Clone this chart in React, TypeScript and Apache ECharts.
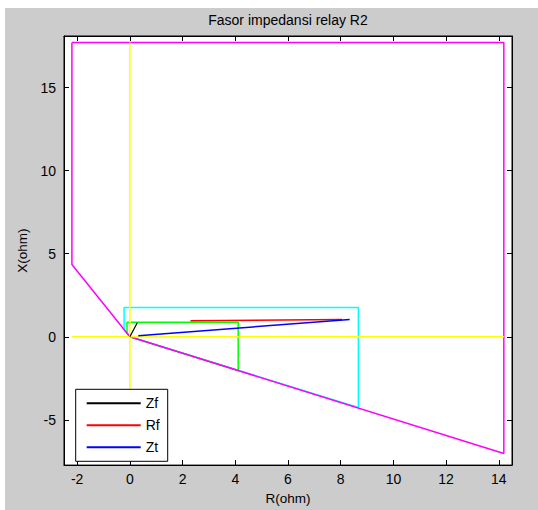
import React, { useEffect, useRef } from "react";
import * as echarts from "echarts";

// ---- data ----
const xTickValues = [-2, 0, 2, 4, 6, 8, 10, 12, 14];
const yTickValues = [-5, 0, 5, 10, 15];
const xRange = [-2.5, 14.5];
const yRange = [-7.72, 18.1];

// zone 3 (magenta)
const zone3Outline = [
  [-2.2, 17.71],
  [-2.2, 4.35],
  [0, 0],
  [14.19, -7.02],
  [14.19, 17.71],
  [-2.2, 17.71],
];
// zone 2 (cyan)
const zone2Outline = [
  [0, 0],
  [-0.22, 0.44],
  [-0.22, 1.76],
  [8.67, 1.76],
  [8.67, -4.25],
  [0, 0],
];
// zone 1 (green)
const zone1Outline = [
  [0, 0],
  [-0.11, 0.22],
  [-0.11, 0.87],
  [4.11, 0.87],
  [4.11, -2.03],
  [0, 0],
];
// yellow reference axes
const rAxisRef = [
  [-2.2, 0],
  [14.19, 0],
];
const xAxisRef = [
  [0, -7.02],
  [0, 17.71],
];
// phasors
const zfLine = [
  [0, 0],
  [0.28, 0.85],
];
const rfLine = [
  [2.3, 0.96],
  [8.05, 1.04],
];
const ztLine = [
  [0.32, 0.07],
  [8.34, 1.04],
];

const FONT = "'Liberation Sans', Arial, sans-serif";

export default function App() {
  const ref = useRef<HTMLDivElement>(null);

  useEffect(() => {
    if (!ref.current) return;
    const chart = echarts.init(ref.current, undefined, { renderer: "svg" });

    const line = (name: string | undefined, data: number[][], color: string, width = 1.5) => ({
      type: "line",
      name,
      data,
      showSymbol: false,
      symbol: "none",
      silent: true,
      lineStyle: { color, width },
      itemStyle: { color },
    });

    const axisLine = { show: true, onZero: false, lineStyle: { color: "#000", width: 1 } };
    const tick = (vals: number[]) => ({
      show: true,
      inside: true,
      length: 5,
      customValues: vals,
      lineStyle: { color: "#000" },
    });

    chart.setOption({
      animation: false,
      backgroundColor: "#cccccc",
      grid: {
        left: 59,
        top: 28,
        right: 26,
        bottom: 40,
        show: true,
        backgroundColor: "#ffffff",
        borderColor: "#000",
        borderWidth: 1,
      },
      graphic: [
        {
          type: "text",
          x: 283,
          y: 12,
          style: {
            text: "Fasor impedansi relay R2",
            font: `14px ${FONT}`,
            fill: "#000",
            align: "center",
            verticalAlign: "middle",
          },
        },
      ],
      xAxis: [
        {
          type: "value",
          position: "bottom",
          min: xRange[0],
          max: xRange[1],
          splitLine: { show: false },
          axisLine,
          name: "R(ohm)",
          nameLocation: "middle",
          nameGap: 24,
          nameTextStyle: { color: "#000", fontSize: 13.5, fontFamily: FONT },
          axisTick: tick(xTickValues),
          axisLabel: { show: true, customValues: xTickValues, margin: 7, color: "#000", fontSize: 14, fontFamily: FONT },
        },
        {
          type: "value",
          position: "top",
          min: xRange[0],
          max: xRange[1],
          splitLine: { show: false },
          axisLine,
          axisTick: tick(xTickValues),
          axisLabel: { show: false },
        },
      ],
      yAxis: [
        {
          type: "value",
          position: "left",
          min: yRange[0],
          max: yRange[1],
          splitLine: { show: false },
          axisLine,
          name: "X(ohm)",
          nameLocation: "middle",
          nameGap: 32,
          nameTextStyle: { color: "#000", fontSize: 13.5, fontFamily: FONT },
          axisTick: tick(yTickValues),
          axisLabel: { show: true, customValues: yTickValues, margin: 8, color: "#000", fontSize: 14, fontFamily: FONT },
        },
        {
          type: "value",
          position: "right",
          min: yRange[0],
          max: yRange[1],
          splitLine: { show: false },
          axisLine,
          axisTick: tick(yTickValues),
          axisLabel: { show: false },
        },
      ],
      legend: {
        data: ["Zf", "Rf", "Zt"],
        orient: "vertical",
        left: 70.7,
        top: 381.3,
        backgroundColor: "#ffffff",
        borderColor: "#000",
        borderWidth: 1,
        borderRadius: 0,
        padding: [7, 8, 7, 10],
        itemWidth: 54,
        itemHeight: 14,
        itemGap: 8,
        selectedMode: false,
        itemStyle: { opacity: 0, borderWidth: 0 },
        textStyle: { color: "#000", fontSize: 14, fontFamily: FONT, width: 17 },
      },
      series: [
        line(undefined, zone2Outline, "#00ffff"),
        line(undefined, zone1Outline, "#00ff00"),
        line(undefined, zone3Outline, "#ff00ff"),
        line(undefined, rAxisRef, "#ffff00"),
        line(undefined, xAxisRef, "#ffff00"),
        line("Zf", zfLine, "#000000", 1.2),
        line("Rf", rfLine, "#ff0000"),
        line("Zt", ztLine, "#0000ff"),
      ],
    });

    return () => chart.dispose();
  }, []);

  return (
    <div
      style={{
        position: "absolute",
        left: 0,
        top: 0,
        width: 538,
        height: 510,
        background: "#ffffff",
        overflow: "hidden",
      }}
    >
      <div ref={ref} style={{ position: "absolute", left: 5, top: 8, width: 533, height: 502 }} />
    </div>
  );
}
